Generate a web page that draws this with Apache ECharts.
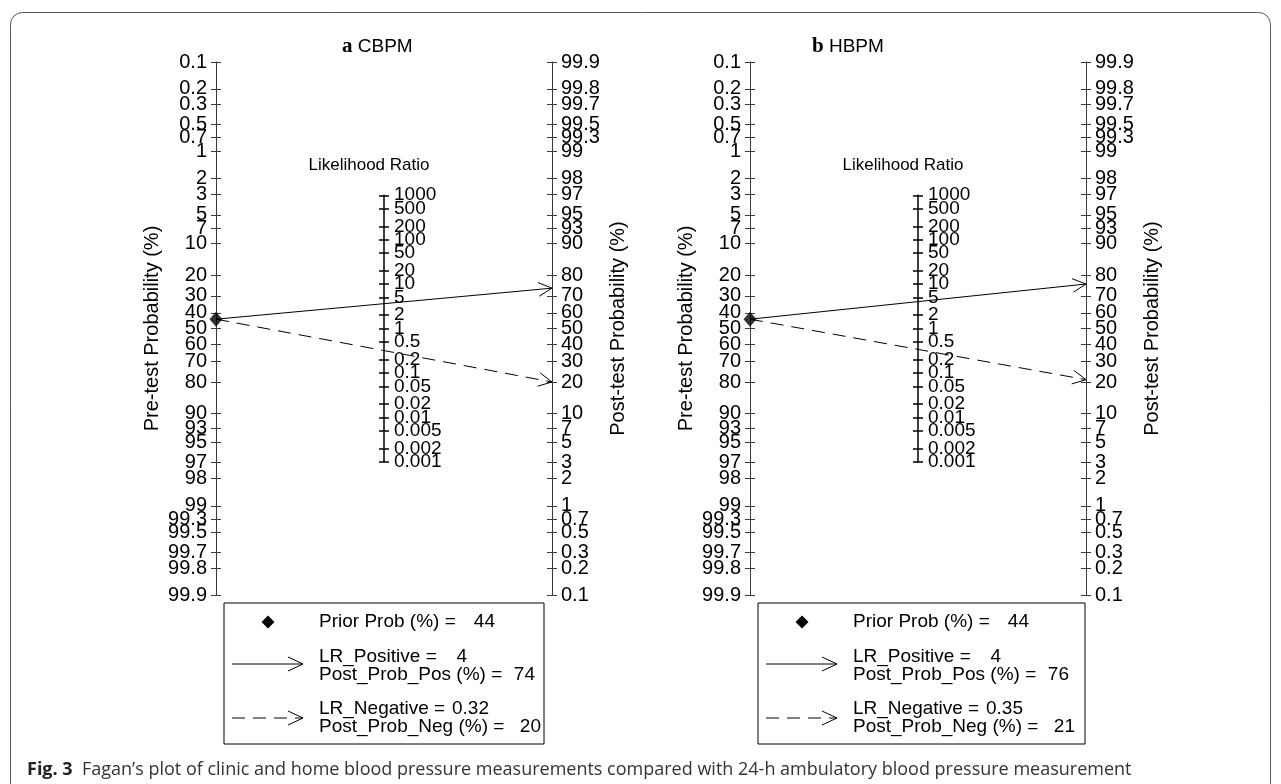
<!DOCTYPE html>
<html>
<head>
<meta charset="utf-8">
<script src="https://cdn.jsdelivr.net/npm/echarts@6/dist/echarts.min.js"></script>
<style>
html, body { margin: 0; padding: 0; background: #fff; }
#main { width: 1281px; height: 784px; }
</style>
</head>
<body>
<div id="main"></div>
<script>
// data
var panelLetters = ['a', 'b'];
var panelNames = ['CBPM', 'HBPM'];
var priorProb = [44, 44];
var lrPositive = [4, 4];
var postProbPos = [74, 76];
var lrNegative = [0.32, 0.35];
var postProbNeg = [20, 21];

var probTicks = [0.1, 0.2, 0.3, 0.5, 0.7, 1, 2, 3, 5, 7, 10, 20, 30, 40, 50, 60, 70, 80, 90, 93, 95, 97, 98, 99, 99.3, 99.5, 99.7, 99.8, 99.9];
var lrTicks = [1000, 500, 200, 100, 50, 20, 10, 5, 2, 1, 0.5, 0.2, 0.1, 0.05, 0.02, 0.01, 0.005, 0.002, 0.001];

var FONT = 'Liberation Sans, Arial, sans-serif';

function logit(p) { return Math.log(p / (100 - p)); }
var LIM = logit(99.9) + 1e-9;
var LRLIM = Math.log(1000) + 1e-9;
var probVals = probTicks.map(logit);
var lrVals = lrTicks.map(function (v) { return Math.log(v); });
// the LR labels crowd each other, so they are shared over two axes (every other one)
var lrValsA = lrVals.filter(function (v, i) { return i % 2 === 0; });
var lrValsB = lrVals.filter(function (v, i) { return i % 2 === 1; });

function nearest(vals, labels, v) {
    var best = 0;
    for (var i = 1; i < vals.length; i++) {
        if (Math.abs(vals[i] - v) < Math.abs(vals[best] - v)) best = i;
    }
    return String(labels[best]);
}
function probLabel(v) { return nearest(probVals, probTicks, v); }
function lrLabel(v) { return nearest(lrVals, lrTicks, v); }

var axisColor = '#3a3a3a';
var grid = [], xAxis = [], yAxis = [], series = [], graphic = [];

function probAxis(gi, pos, inverse, inside, name, gap) {
    return {
        gridIndex: gi, type: 'value', position: pos, inverse: inverse,
        min: -LIM, max: LIM,
        name: inside ? '' : name, nameLocation: 'middle', nameGap: gap, nameRotate: 90,
        nameTextStyle: { fontFamily: FONT, fontSize: 20, color: '#000' },
        axisLine: { show: !inside, onZero: false, lineStyle: { color: axisColor, width: 1 } },
        axisTick: { show: true, inside: inside, length: 5, customValues: probVals, lineStyle: { color: axisColor } },
        axisLabel: { show: !inside, customValues: probVals, formatter: probLabel, margin: 9,
            showMinLabel: true, showMaxLabel: true,
            fontFamily: FONT, fontSize: 20, color: '#000' },
        splitLine: { show: false }
    };
}

function lrAxis(gi, inside, labelVals) {
    return {
        gridIndex: gi, type: 'value', position: 'right', min: -LRLIM, max: LRLIM,
        axisLine: { show: !inside, onZero: false, lineStyle: { color: '#000', width: 1.5 } },
        axisTick: { show: true, inside: inside, length: 5, customValues: lrVals, lineStyle: { color: '#000', width: 1.5 } },
        axisLabel: { show: true, customValues: labelVals, formatter: lrLabel, margin: 10,
            fontFamily: FONT, fontSize: 19, color: '#000' },
        splitLine: { show: false }
    };
}

function legendText(x, y, txt, align) {
    return { type: 'text', x: x, y: y, style: { text: txt, fontFamily: FONT, fontSize: 19, fill: '#000',
        align: align || 'left', verticalAlign: 'middle' } };
}

function addPanel(k, dx, boxW, titleX) {
    var gm = grid.length, gl = gm + 1;
    grid.push({ left: 216 + dx, top: 62, width: 336, height: 533 });
    grid.push({ left: 382 + dx, top: 195.25, width: 2, height: 266.5 });
    var xm = xAxis.length;
    xAxis.push({ gridIndex: gm, type: 'value', min: 0, max: 2, show: false });
    xAxis.push({ gridIndex: gl, type: 'value', min: 0, max: 1, show: false });
    var ym = yAxis.length;
    yAxis.push({ gridIndex: gm, type: 'value', min: -LIM, max: LIM, show: false });
    yAxis.push(probAxis(gm, 'left', true, false, 'Pre-test Probability (%)', 54));
    yAxis.push(probAxis(gm, 'left', true, true));
    yAxis.push(probAxis(gm, 'right', false, false, 'Post-test Probability (%)', 56));
    yAxis.push(probAxis(gm, 'right', false, true));
    yAxis.push(lrAxis(gl, false, lrValsA));
    yAxis.push(lrAxis(gl, true, lrValsB));

    series.push({
        type: 'custom', xAxisIndex: xm, yAxisIndex: ym, clip: false, silent: true,
        data: [
            [0, -logit(priorProb[k]), 2, logit(postProbPos[k]), 0],
            [0, -logit(priorProb[k]), 2, logit(postProbNeg[k]), 1]
        ],
        renderItem: function (params, api) {
            var a = api.coord([api.value(0), api.value(1)]);
            var b = api.coord([api.value(2), api.value(3)]);
            var ang = Math.atan2(b[1] - a[1], b[0] - a[0]);
            var L = 15, h = 0.47;
            var p1 = [b[0] - L * Math.cos(ang - h), b[1] - L * Math.sin(ang - h)];
            var p2 = [b[0] - L * Math.cos(ang + h), b[1] - L * Math.sin(ang + h)];
            return { type: 'group', children: [
                { type: 'line', shape: { x1: a[0], y1: a[1], x2: b[0], y2: b[1] },
                  style: { stroke: '#000', lineWidth: 1, lineDash: api.value(4) ? [13, 8] : null } },
                { type: 'polyline', shape: { points: [p1, b, p2] },
                  style: { stroke: '#000', fill: 'none', lineWidth: 1 } }
            ] };
        }
    });
    series.push({
        type: 'scatter', xAxisIndex: xm, yAxisIndex: ym, clip: false, silent: true,
        symbol: 'diamond', symbolSize: [13, 15], itemStyle: { color: '#000' },
        data: [[0, -logit(priorProb[k])]]
    });

    // panel title and middle axis title
    graphic.push({ type: 'text', x: titleX, y: 47, style: {
        text: '{l|' + panelLetters[k] + '}{n| ' + panelNames[k] + '}', verticalAlign: 'middle',
        rich: { l: { fontFamily: 'Liberation Serif, serif', fontWeight: 'bold', fontSize: 21, fill: '#000' },
                n: { fontFamily: FONT, fontSize: 19, fill: '#000' } } } });
    graphic.push({ type: 'text', x: 369 + dx, y: 165, style: { text: 'Likelihood Ratio',
        fontFamily: FONT, fontSize: 17, fill: '#000', align: 'center', verticalAlign: 'middle' } });

    // legend box
    graphic.push({ type: 'rect', shape: { x: 224 + dx, y: 603, width: boxW, height: 141 },
        style: { fill: '#fff', stroke: '#000', lineWidth: 1 } });
    graphic.push({ type: 'polygon', shape: { points: [[268 + dx, 615.5], [274.5 + dx, 622], [268 + dx, 628.5], [261.5 + dx, 622]] },
        style: { fill: '#000' } });
    graphic.push({ type: 'line', shape: { x1: 232 + dx, y1: 664, x2: 303 + dx, y2: 664 }, style: { stroke: '#000', lineWidth: 1 } });
    graphic.push({ type: 'polyline', shape: { points: [[288 + dx, 657], [303 + dx, 664], [288 + dx, 671]] }, style: { stroke: '#000', fill: 'none', lineWidth: 1 } });
    graphic.push({ type: 'line', shape: { x1: 232 + dx, y1: 718, x2: 303 + dx, y2: 718 }, style: { stroke: '#000', lineWidth: 1, lineDash: [13, 8] } });
    graphic.push({ type: 'polyline', shape: { points: [[288 + dx, 711], [303 + dx, 718], [288 + dx, 725]] }, style: { stroke: '#000', fill: 'none', lineWidth: 1 } });

    graphic.push(legendText(319 + dx, 622, 'Prior Prob (%) ='));
    graphic.push(legendText(495 + dx, 622, String(priorProb[k]), 'right'));
    graphic.push(legendText(319 + dx, 657, 'LR_Positive ='));
    graphic.push(legendText(467 + dx, 657, String(lrPositive[k]), 'right'));
    graphic.push(legendText(319 + dx, 675, 'Post_Prob_Pos (%) ='));
    graphic.push(legendText(535 + dx, 675, String(postProbPos[k]), 'right'));
    graphic.push(legendText(319 + dx, 709, 'LR_Negative ='));
    graphic.push(legendText(489 + dx, 709, String(lrNegative[k]), 'right'));
    graphic.push(legendText(319 + dx, 727, 'Post_Prob_Neg (%) ='));
    graphic.push(legendText(541 + dx, 727, String(postProbNeg[k]), 'right'));
}

addPanel(0, 0, 320, 342);
addPanel(1, 534, 327, 812);

// outer frame and caption
graphic.unshift({ type: 'rect', shape: { x: 10.5, y: 12.5, width: 1260, height: 800, r: 12 },
    style: { fill: 'none', stroke: '#555', lineWidth: 1 } });
graphic.push({ type: 'text', x: 27, y: 770, style: {
    text: '{b|Fig. 3}{n|  Fagan\u2019s plot of clinic and home blood pressure measurements compared with 24-h ambulatory blood pressure measurement}',
    verticalAlign: 'middle',
    rich: { b: { fontFamily: 'Open Sans, sans-serif', fontWeight: 'bold', fontSize: 18, fill: '#222' },
            n: { fontFamily: 'Open Sans, sans-serif', fontSize: 18, fill: '#333' } } } });

var myChart = echarts.init(document.getElementById('main'));
myChart.setOption({
    animation: false,
    backgroundColor: '#fff',
    grid: grid,
    xAxis: xAxis,
    yAxis: yAxis,
    series: series,
    graphic: graphic
});
</script>
</body>
</html>
